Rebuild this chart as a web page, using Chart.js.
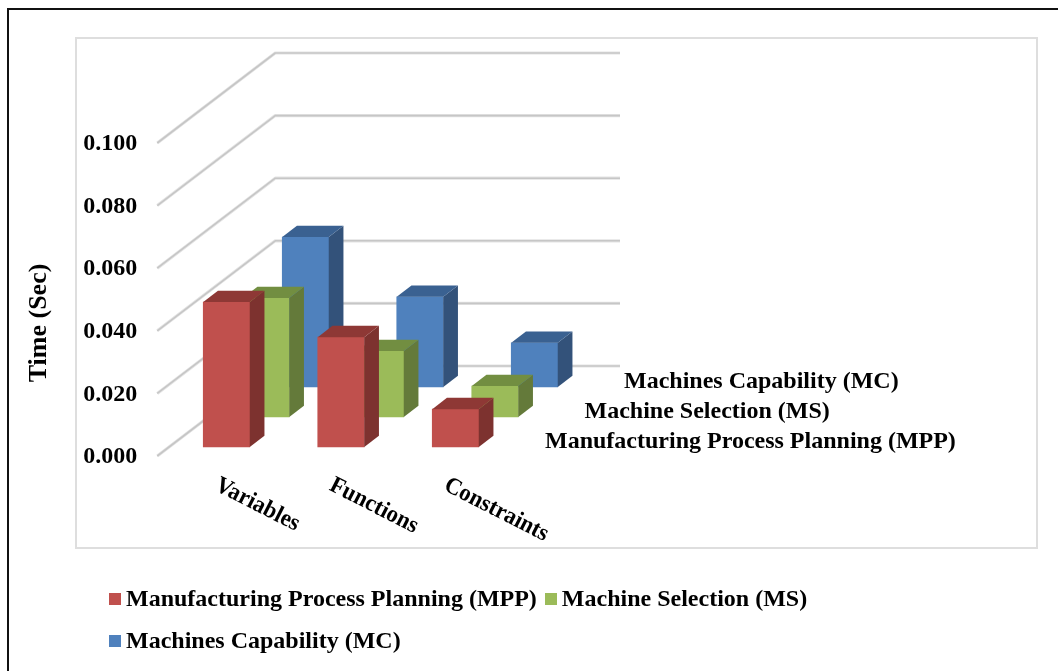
<!DOCTYPE html>
<html>
<head>
<meta charset="utf-8">
<title>Time by problem size</title>
<script src="https://cdn.jsdelivr.net/npm/chart.js@4"></script>
<style>
  html, body { margin: 0; padding: 0; background: #fff; overflow: hidden; }
  #page { position: relative; width: 1058px; height: 671px; overflow: hidden; }
  #outer { position: absolute; left: 7px; top: 8px; width: 1100px; height: 700px; border-left: 2px solid #111; border-top: 2px solid #111; }
  #frame { position: absolute; left: 75px; top: 37px; width: 959px; height: 508px; border: 2px solid #dedede; }
  #chart-box { position: absolute; left: 0; top: 0; width: 1058px; height: 671px; }
  #legend { position: absolute; left: 109px; top: 577px; width: 760px; font: bold 24px "Liberation Serif", serif; line-height: 42px; color: #000; }
  .item { display: inline-block; margin-right: 8px; white-space: nowrap; }
  .swatch { display: inline-block; width: 12px; height: 12px; margin-right: 5px; vertical-align: 1px; }
</style>
</head>
<body>
<div id="page">
  <div id="outer"></div>
  <div id="frame"></div>
  <div id="chart-box"><canvas id="chart"></canvas></div>
  <div id="legend"></div>
</div>
<script>
// Chart data
const categories = ['Variables', 'Functions', 'Constraints'];
const seriesNames = ['Manufacturing Process Planning (MPP)', 'Machine Selection (MS)', 'Machines Capability (MC)'];
const mppValues = [0.0463, 0.0351, 0.0121];
const msValues = [0.0380, 0.0211, 0.0099];
const mcValues = [0.0479, 0.0288, 0.0141];
const frontColors = ['#c0504d', '#9bbb59', '#4f81bd'];
const sideColors = ['#7d322f', '#647a3a', '#33527a'];
const topColors = ['#8e3835', '#728e41', '#3a6191'];

const FONT = '"Liberation Serif", serif';

// Depth of the fake 3D: each series sits further back along the floor
const depthStep = { x: 39.5, y: -30 };
const floorShift = -9;
const extrude = { x: 14.7, y: -11.3 };
const wallDepth = { x: 118, y: -90 };

// Back wall and the slanted side wall lines
function drawGrid(chart) {
  const { ctx, scales: { y, x } } = chart;
  const frontX = x.left - 12;
  const wallRight = 620;
  y.ticks.forEach((tick) => {
    const py = y.getPixelForValue(tick.value);
    const path = () => {
      ctx.beginPath();
      ctx.moveTo(frontX, py);
      ctx.lineTo(frontX + wallDepth.x, py + wallDepth.y);
      ctx.lineTo(wallRight, py + wallDepth.y);
    };
    ctx.save();
    ctx.lineJoin = 'round';
    path();
    ctx.strokeStyle = '#e4e4e4';
    ctx.lineWidth = 3.2;
    ctx.stroke();
    path();
    ctx.strokeStyle = '#c6c6c6';
    ctx.lineWidth = 1.6;
    ctx.stroke();
    ctx.restore();
  });
}

// Side and top faces of one series, drawn in the translated space of the bars
function drawFaces(chart, index) {
  const { ctx } = chart;
  chart.getDatasetMeta(index).data.forEach((bar) => {
    const { x, y, base, width } = bar.getProps(['x', 'y', 'base', 'width'], true);
    const left = x - width / 2;
    const right = x + width / 2;
    ctx.fillStyle = sideColors[index];
    ctx.beginPath();
    ctx.moveTo(right, y);
    ctx.lineTo(right + extrude.x, y + extrude.y);
    ctx.lineTo(right + extrude.x, base + extrude.y);
    ctx.lineTo(right, base);
    ctx.closePath();
    ctx.fill();
    ctx.fillStyle = topColors[index];
    ctx.beginPath();
    ctx.moveTo(left, y);
    ctx.lineTo(left + extrude.x, y + extrude.y);
    ctx.lineTo(right + extrude.x, y + extrude.y);
    ctx.lineTo(right, y);
    ctx.closePath();
    ctx.fill();
  });
}

// Category labels, series names on the depth axis and the y title
function drawLabels(chart) {
  const { ctx, scales: { x } } = chart;
  ctx.save();
  ctx.fillStyle = '#000';
  ctx.font = 'bold 24px ' + FONT;
  ctx.textBaseline = 'middle';
  ctx.textAlign = 'left';

  categories.forEach((name, i) => {
    ctx.save();
    ctx.translate(x.getPixelForTick(i) - 10, 484);
    ctx.rotate(27 * Math.PI / 180);
    ctx.scale(0.95, 1);
    ctx.fillText(name, 0, 0);
    ctx.restore();
  });

  seriesNames.forEach((name, i) => {
    ctx.fillText(name, 545 + i * depthStep.x, 442 + i * depthStep.y);
  });

  ctx.translate(39, 323);
  ctx.rotate(-Math.PI / 2);
  ctx.textAlign = 'center';
  ctx.font = 'bold 26px ' + FONT;
  ctx.fillText('Time (Sec)', 0, 0);
  ctx.restore();
}

const fake3d = {
  id: 'fake3d',
  beforeDatasetsDraw(chart) {
    drawGrid(chart);
  },
  beforeDatasetDraw(chart, args) {
    chart.ctx.save();
    chart.ctx.translate(args.index * depthStep.x, floorShift + args.index * depthStep.y);
  },
  afterDatasetDraw(chart, args) {
    drawFaces(chart, args.index);
    chart.ctx.restore();
  },
  afterDraw(chart) {
    drawLabels(chart);
  }
};

const ctx = document.getElementById('chart').getContext('2d');
const chart = new Chart(ctx, {
  type: 'bar',
  data: {
    labels: categories,
    datasets: [mppValues, msValues, mcValues].map((values, i) => ({
      label: seriesNames[i],
      data: values,
      backgroundColor: frontColors[i],
      barThickness: 46.5,
      grouped: false,
      clip: false
    }))
  },
  options: {
    responsive: true,
    maintainAspectRatio: false,
    animation: false,
    devicePixelRatio: 1,
    layout: { padding: { top: 143, bottom: 215, left: 0, right: 545.25 } },
    plugins: {
      legend: { display: false },
      tooltip: { enabled: false }
    },
    scales: {
      x: {
        afterFit(scale) { scale.height = 0; },
        grid: { display: false },
        border: { display: false },
        ticks: { display: false }
      },
      y: {
        min: 0,
        max: 0.1,
        afterFit(scale) { scale.width = 169.25; },
        grid: { display: false, drawTicks: false },
        border: { display: false },
        ticks: {
          stepSize: 0.02,
          padding: 32,
          labelOffset: 1,
          color: '#000',
          font: { family: FONT, size: 24, weight: 'bold' },
          callback: (value) => value.toFixed(3)
        }
      }
    }
  },
  plugins: [fake3d]
});

// Legend built from the chart datasets
const legendBox = document.getElementById('legend');
chart.data.datasets.forEach((dataset) => {
  const item = document.createElement('span');
  item.className = 'item';
  const swatch = document.createElement('span');
  swatch.className = 'swatch';
  swatch.style.background = dataset.backgroundColor;
  item.appendChild(swatch);
  item.appendChild(document.createTextNode(dataset.label));
  legendBox.appendChild(item);
});
</script>
</body>
</html>
